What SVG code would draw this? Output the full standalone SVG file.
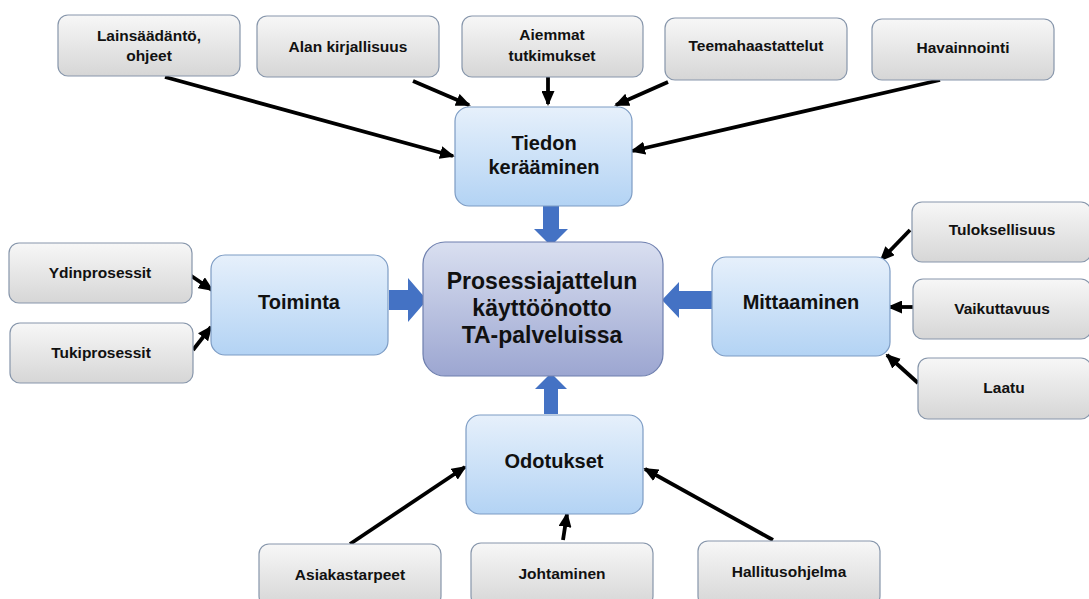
<svg xmlns="http://www.w3.org/2000/svg" width="1089" height="599" viewBox="0 0 1089 599">
<defs>
<linearGradient id="gSrc" x1="0" y1="0" x2="0" y2="1">
<stop offset="0" stop-color="#f7f7f7"/>
<stop offset="1" stop-color="#d6d6d6"/>
</linearGradient>
<linearGradient id="gNode" x1="0" y1="0" x2="0" y2="1">
<stop offset="0" stop-color="#e6f0fb"/>
<stop offset="1" stop-color="#b3d3f4"/>
</linearGradient>
<linearGradient id="gCenter" x1="0" y1="0" x2="0" y2="1">
<stop offset="0" stop-color="#d9dff0"/>
<stop offset="1" stop-color="#9ca6d1"/>
</linearGradient>
<marker id="ah" markerUnits="userSpaceOnUse" markerWidth="15" markerHeight="13" refX="13" refY="6.5" orient="auto">
<path d="M0,0 L15,6.5 L0,13 z" fill="#000"/>
</marker>
<style>
.src{fill:url(#gSrc);stroke:#8796ab;stroke-width:1.2}
.node{fill:url(#gNode);stroke:#7d9cc4;stroke-width:1.2}
.center{fill:url(#gCenter);stroke:#6e7fae;stroke-width:1.2}
text{font-family:"Liberation Sans",Arial,sans-serif;font-weight:bold;fill:#111;text-anchor:middle}
.s{font-size:15.5px}
.n{font-size:20px}
.c{font-size:23px}
.con line{stroke:#000;stroke-width:3.8;marker-end:url(#ah)}
.blk{fill:#4472c4}
</style>
</defs>
<rect width="1089" height="599" fill="#fff"/>

<g id="connectors" class="con">
<line x1="165" y1="77" x2="453" y2="156"/>
<line x1="413" y1="81" x2="469" y2="105"/>
<line x1="548" y1="77" x2="548" y2="104"/>
<line x1="668" y1="82" x2="616" y2="105"/>
<line x1="940" y1="80" x2="632" y2="151"/>
<line x1="187" y1="273" x2="212" y2="290"/>
<line x1="193" y1="350" x2="211" y2="327"/>
<line x1="910" y1="230" x2="881" y2="260"/>
<line x1="913" y1="307" x2="889" y2="307"/>
<line x1="918" y1="383" x2="887" y2="355"/>
<line x1="350" y1="544" x2="465" y2="467"/>
<line x1="563" y1="540" x2="567" y2="514"/>
<line x1="773" y1="540" x2="645" y2="469"/>
<polygon class="blk" points="543,206 559,206 559,229 568,229 551,246 534,229 543,229"/>
<polygon class="blk" points="544,414 558,414 558,389 567,389 551,373 535,389 544,389"/>
<polygon class="blk" points="389,290 408,290 408,278 427,300 408,322 408,310 389,310"/>
<polygon class="blk" points="712,291 679,291 679,282 662,300 679,318 679,309 712,309"/>
</g>

<g id="lainsaadanto"><rect class="src" x="58" y="15" width="182" height="61" rx="10"/><text class="s" x="149" y="41">Lainsäädäntö,</text><text class="s" x="149" y="61">ohjeet</text></g>
<g id="alan-kirjallisuus"><rect class="src" x="257" y="16" width="182" height="61" rx="10"/><text class="s" x="348" y="52">Alan kirjallisuus</text></g>
<g id="aiemmat-tutkimukset"><rect class="src" x="462" y="16" width="181" height="61" rx="10"/><text class="s" x="552" y="40">Aiemmat</text><text class="s" x="552" y="61">tutkimukset</text></g>
<g id="teemahaastattelut"><rect class="src" x="665" y="18" width="182" height="62" rx="10"/><text class="s" x="756" y="51">Teemahaastattelut</text></g>
<g id="havainnointi"><rect class="src" x="872" y="19" width="182" height="61" rx="10"/><text class="s" x="963" y="53">Havainnointi</text></g>

<g id="tiedon-keraaminen"><rect class="node" x="455" y="107" width="177" height="99" rx="14"/><text class="n" x="544" y="150">Tiedon</text><text class="n" x="544" y="174">kerääminen</text></g>

<g id="ydinprosessit"><rect class="src" x="9" y="243" width="183" height="60" rx="10"/><text class="s" x="100" y="278">Ydinprosessit</text></g>
<g id="tukiprosessit"><rect class="src" x="10" y="323" width="183" height="60" rx="10"/><text class="s" x="101" y="358">Tukiprosessit</text></g>
<g id="toiminta"><rect class="node" x="211" y="255" width="177" height="100" rx="14"/><text class="n" x="299" y="309">Toiminta</text></g>

<g id="prosessiajattelu"><rect class="center" x="423" y="242" width="240" height="134" rx="22"/><text class="c" x="542" y="289">Prosessiajattelun</text><text class="c" x="542" y="316">käyttöönotto</text><text class="c" x="542" y="343">TA-palveluissa</text></g>

<g id="mittaaminen"><rect class="node" x="712" y="257" width="178" height="99" rx="14"/><text class="n" x="801" y="309">Mittaaminen</text></g>
<g id="tuloksellisuus"><rect class="src" x="912" y="202" width="179" height="60" rx="10"/><text class="s" x="1002" y="235">Tuloksellisuus</text></g>
<g id="vaikuttavuus"><rect class="src" x="913" y="279" width="178" height="60" rx="10"/><text class="s" x="1002" y="314">Vaikuttavuus</text></g>
<g id="laatu"><rect class="src" x="918" y="358" width="173" height="61" rx="10"/><text class="s" x="1004" y="393">Laatu</text></g>

<g id="odotukset"><rect class="node" x="466" y="415" width="177" height="99" rx="14"/><text class="n" x="554" y="468">Odotukset</text></g>
<g id="asiakastarpeet"><rect class="src" x="259" y="544" width="182" height="62" rx="10"/><text class="s" x="350" y="580">Asiakastarpeet</text></g>
<g id="johtaminen"><rect class="src" x="471" y="543" width="182" height="63" rx="10"/><text class="s" x="562" y="579">Johtaminen</text></g>
<g id="hallitusohjelma"><rect class="src" x="698" y="541" width="182" height="65" rx="10"/><text class="s" x="789" y="577">Hallitusohjelma</text></g>
</svg>
